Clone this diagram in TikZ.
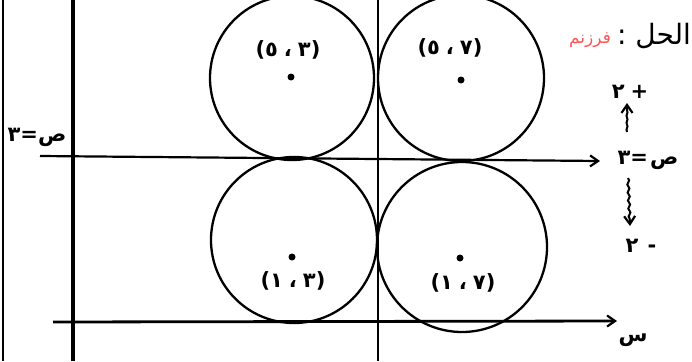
\documentclass[tikz,border=0pt]{standalone}
\usepackage{fontspec}
\newfontfamily\arabicfont[Script=Arabic]{DejaVu Sans}
\newfontfamily\digfont{DejaVu Sans}
\TeXXeTstate=1
\usetikzlibrary{arrows.meta,decorations.pathmorphing}
\newcommand{\ch}[1]{\mbox{#1}}
\newcommand{\sep}{\hspace{6pt}}
\tikzset{
  axis/.style={line width=3.4pt, black},
  thinaxis/.style={line width=2.2pt, black},
  circ/.style={line width=2.3pt, black},
  lbl/.style={font=\digfont\bfseries\fontsize{21}{24}\selectfont, inner sep=0pt},
  biglbl/.style={font=\arabicfont\fontsize{28}{32}\selectfont, inner sep=0pt},
  ctr/.style={circle, fill=black, inner sep=0pt, minimum size=7pt},
  tip/.style={-{Straight Barb[length=8pt,width=11pt,line width=2.2pt]}}
}
\begin{document}
\begin{tikzpicture}[x=1pt,y=-1pt]
\useasboundingbox[fill=white] (0,0) rectangle (692,361);
% vertical lines
\draw[line width=1.8pt] (3,0) -- (3,361);
\draw[axis] (73,0) -- (73,361);
\draw[thinaxis] (378,0) -- (378,361);
% circles
\draw[circ] (292,78) circle[radius=82];
\draw[circ] (461,78) circle[radius=83];
\draw[circ] (294,240) circle[radius=83];
\draw[circ] (462,247) circle[radius=85];
% texts on right
\node[lbl] (yeq) at (648,160) {\ch{٣}\ch{=}\hspace{2pt}\ch{ص}};
\node[lbl] (plus) at (630,92) {\ch{٢}\sep\ch{+}};
\node[lbl] (minus) at (641,246) {\ch{٢}\hspace{9pt}\ch{-}};
\node[biglbl] (sol) at (654,36) {\beginR الحل :\endR};
\node[inner sep=0pt, text=red!55!pink, font=\arabicfont\fontsize{17}{20}\selectfont] (scrib) at (590,40) {\beginR فرزنم\endR};
\node[lbl] (xlab) at (633,340) {\ch{س}};
\node[lbl] (yleft) at (37,137) {\ch{٣}\ch{=}\ch{ص}};
% horizontal lines
\coordinate (mL) at (40,156);
\coordinate (bL) at (53,322);
\coordinate (bR) at (617,321);
\draw[thinaxis, tip] (mL) -- (600,161);
\draw[axis, line width=2.8pt, tip] (bL) -- (bR);
% arrows near y=3
\draw[line width=2pt, tip, decorate, decoration={snake, amplitude=0.5pt, segment length=7pt, post length=7pt}] (627,132) -- (627,103);
\draw[line width=2pt, tip, decorate, decoration={snake, amplitude=1pt, segment length=8pt, post length=7pt}] (628,178) -- (630,226);
% centres
\node[ctr] (c1) at (291,77) {};
\node[ctr] (c2) at (461,80) {};
\node[ctr] (c3) at (292,257) {};
\node[ctr] (c4) at (460,258) {};
% coordinate labels
\node[lbl] (l1) at (288,50) {\ch{(}\ch{٥}\sep\ch{،}\sep\ch{٣}\ch{)}};
\node[lbl] (l2) at (450,48) {\ch{(}\ch{٥}\sep\ch{،}\sep\ch{٧}\ch{)}};
\node[lbl] (l3) at (293,281) {\ch{(}\ch{١}\sep\ch{،}\sep\ch{٣}\ch{)}};
\node[lbl] (l4) at (463,283) {\ch{(}\ch{١}\sep\ch{،}\sep\ch{٧}\ch{)}};
\end{tikzpicture}
\end{document}
